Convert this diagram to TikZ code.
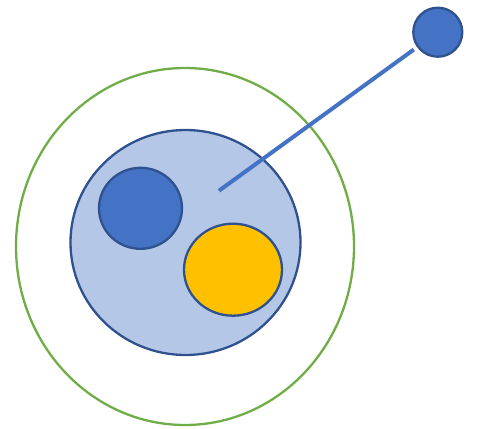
\documentclass[tikz,border=0pt]{standalone}
\usetikzlibrary{shapes.geometric, positioning}
\usepackage{xcolor}
\definecolor{ringgreen}{HTML}{70AD47}
\definecolor{cellblue}{HTML}{B4C7E7}
\definecolor{darkblue}{HTML}{4472C4}
\definecolor{edgeblue}{HTML}{2F528F}
\definecolor{coreyellow}{HTML}{FFC000}

\begin{document}
\begin{tikzpicture}[
      x=1pt, y=-1pt,
      ellipse_block/.style={ellipse, draw=edgeblue, line width=2.3pt, inner sep=0pt},
      ring_block/.style={ellipse, draw=ringgreen, line width=2.3pt, inner sep=0pt},
      line/.style={draw=darkblue, line width=4pt}
  ]
  \useasboundingbox (0,0) rectangle (478,428);

  \node [ring_block, minimum width=338pt, minimum height=357pt] (ring) at (185,246.5) {};
  \node [ellipse_block, fill=cellblue, minimum width=230pt, minimum height=225pt] (cell) at (185.5,242.5) {};
  \node [ellipse_block, fill=darkblue, minimum width=83pt, minimum height=81pt] (left) at (140.5,208.3) {};
  \node [ellipse_block, fill=coreyellow, minimum width=98pt, minimum height=92pt] (core) at (233,269.7) {};
  \node [ellipse_block, fill=darkblue, minimum width=49pt, minimum height=49pt] (sat) at (437.8,32.2) {};
  \coordinate (tip) at (219,190.7);

  \path [line, shorten >=4pt] (tip) -- (sat);

\end{tikzpicture}
\end{document}
